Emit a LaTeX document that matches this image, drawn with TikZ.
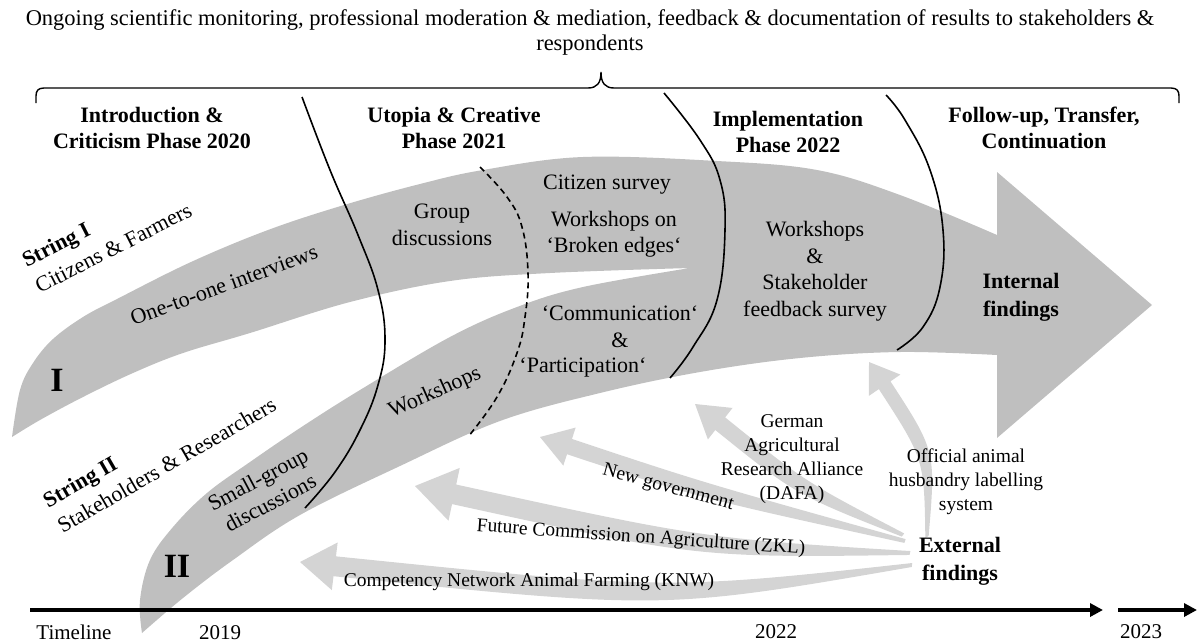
\documentclass[tikz,border=0pt]{standalone}
\usepackage{fontspec}
\setmainfont{Liberation Serif}
\usepackage{tikz}
\usetikzlibrary{arrows.meta,calc}
\definecolor{bandGray}{RGB}{191,191,191}
\definecolor{extGray}{RGB}{212,212,212}
\tikzset{
  head text/.style={align=center,inner sep=0pt,font=\fontsize{22.5}{25}\selectfont},
  phase text/.style={align=center,inner sep=0pt,font=\bfseries\fontsize{22}{26}\selectfont},
  band text/.style={align=center,inner sep=0pt,font=\fontsize{22}{26.5}\selectfont},
  string text/.style={align=left,inner sep=0pt,anchor=south west,font=\fontsize{22}{29}\selectfont},
  roman num/.style={inner sep=0pt,font=\bfseries\fontsize{34}{34}\selectfont},
  ext text/.style={align=center,inner sep=0pt,font=\fontsize{19.5}{24}\selectfont},
  findings text/.style={align=center,inner sep=0pt,font=\bfseries\fontsize{22}{28}\selectfont},
  year text/.style={inner sep=0pt,anchor=base,font=\fontsize{21}{21}\selectfont},
  phase line/.style={line width=1.6pt},
  phase line dashed/.style={line width=1.6pt,dash pattern=on 6pt off 4pt},
  brace line/.style={line width=1.4pt},
  time arrow/.style={line width=4pt,-{Triangle[length=13pt,width=13pt]}}
}
% tapered grey arrow: origin, control, tip, direction, head length, head half width, shaft half width
\newcommand{\extarrow}[7]{%
  \fill[extGray] ($(#1)+(#4+90:2)$) .. controls ($(#2)+(#4+90:#7)$) .. ($(#3)+(#4+180:#5)+(#4+90:#7)$)
    -- ($(#3)+(#4+180:#5)+(#4+90:#6)$) -- (#3)
    -- ($(#3)+(#4+180:#5)+(#4-90:#6)$) -- ($(#3)+(#4+180:#5)+(#4-90:#7)$)
    .. controls ($(#2)+(#4-90:#7)$) .. ($(#1)+(#4-90:2)$) -- cycle;}

\begin{document}
\begin{tikzpicture}[x=1pt,y=-1pt]
\useasboundingbox (0,0) rectangle (1197,643);

% both strings and the common head
\fill[bandGray]
  plot[smooth,tension=.6] coordinates {(12,437) (20,390) (33,363) (53,339) (83,317) (117,299) (191,262) (268,230) (344,205) (420,184) (483,170) (583,157) (717,161) (817,170) (900,195) (997,235)}
  -- (997,172) -- (1152,305) -- (997,438) -- (997,355)
  -- plot[smooth,tension=.6] coordinates {(997,355) (900,352) (800,358) (700,372) (600,393) (500,421) (400,466) (300,515) (233,560) (183,598) (142,633)}
  -- plot[smooth,tension=.6] coordinates {(142,633) (140,600) (150,560) (173,527) (207,493) (250,462) (300,428) (360,390) (450,337) (517,307) (583,287) (690,268)}
  -- plot[smooth,tension=.6] coordinates {(690,268) (550,273) (450,281) (350,302) (250,333) (183,353) (133,373) (83,397) (40,420) (12,437)}
  -- cycle;

% external findings
\coordinate (fromOfficial) at (927,537);
\coordinate (toOfficial) at (869,362);
\coordinate (fromDAFA) at (903,535);
\coordinate (toDAFA) at (695,404);
\coordinate (fromGov) at (905,541);
\coordinate (toGov) at (540,437);
\coordinate (fromZKL) at (910,553);
\coordinate (toZKL) at (415,486);
\coordinate (fromKNW) at (912,565);
\coordinate (toKNW) at (300,562);
\extarrow{fromOfficial}{930,455}{toOfficial}{236}{28}{19}{7}
\extarrow{fromDAFA}{800,488}{toDAFA}{218}{32}{20}{8}
\extarrow{fromGov}{700,490}{toGov}{198}{31}{20}{8}
\extarrow{fromZKL}{700,548}{toZKL}{192}{40}{27}{10}
\extarrow{fromKNW}{665,600}{toKNW}{187}{35}{24}{10}

% phase borders
\draw[phase line] plot[smooth,tension=.7] coordinates {(302,97) (330,170) (358,235) (378,290) (385,340) (378,385) (360,430) (335,472) (305,508)};
\draw[phase line dashed] plot[smooth,tension=.7] coordinates {(480,167) (507,197) (522,227) (528,273) (525,317) (517,353) (497,397) (468,437)};
\draw[phase line] plot[smooth,tension=.7] coordinates {(664,93) (700,140) (720,180) (725,230) (717,300) (693,347) (670,378)};
\draw[phase line] plot[smooth,tension=.7] coordinates {(886,95) (905,120) (930,170) (943,230) (940,287) (923,327) (897,350)};

\draw[brace line] (36,103) -- (36,96) .. controls (36,91) and (38,88) .. (44,88) -- (588,88)
  .. controls (597,88) and (601,83) .. (601,72) .. controls (601,83) and (605,88) .. (614,88)
  -- (1171,88) .. controls (1177,88) and (1179,91) .. (1179,96) -- (1179,103);

\node[head text] (monitoring) at (590,32) {Ongoing scientific monitoring, professional moderation \& mediation, feedback \& documentation of results to stakeholders \&\\respondents};

\node[phase text] (intro) at (152,128) {Introduction \&\\Criticism Phase 2020};
\node[phase text] (utopia) at (454,128) {Utopia \& Creative\\Phase 2021};
\node[phase text] (implement) at (788,132) {Implementation\\Phase 2022};
\node[phase text] (follow) at (1044,128) {Follow-up, Transfer,\\Continuation};

\node[string text,rotate=27] (stringI) at (40,294) {\textbf{String I}\\Citizens \& Farmers};
\node[string text,rotate=30] (stringII) at (63,534) {\textbf{String II}\\Stakeholders \& Researchers};
\node[roman num] (numI) at (57,380) {I};
\node[roman num] (numII) at (177,566) {II};

\node[band text,rotate=20] (interviews) at (224,285) {One-to-one interviews};
\node[band text] (groupdisc) at (442,225) {Group\\discussions};
\node[band text] (citsurvey) at (607,185) {Citizen survey};
\node[band text] (brokenedges) at (614,234) {Workshops on\\‘Broken edges‘};
\node[band text] (communication) at (620,327) {‘Communication‘\\\&};
\node[band text] (participation) at (583,368) {‘Participation‘};
\node[band text,rotate=28] (smallgroup) at (264,491) {Small-group\\discussions};
\node[band text,rotate=24] (workshops) at (435,393) {Workshops};
\node[band text] (stakeholder) at (815,271) {Workshops\\\&\\Stakeholder\\feedback survey};
\node[findings text] (internal) at (1021,297) {Internal\\findings};

\node[findings text] (external) at (960,561) {External\\findings};
\node[ext text] (dafa) at (792,459) {German\\Agricultural\\Research Alliance\\(DAFA)};
\node[ext text] (official) at (966,482) {Official animal\\husbandry labelling\\system};
\node[ext text,rotate=-15] (government) at (668,488) {New government};
\node[ext text,rotate=-4] (zkl) at (641,538) {Future Commission on Agriculture (ZKL)};
\node[ext text] (knw) at (529,582) {Competency Network Animal Farming (KNW)};

% timeline
\coordinate (tlStart) at (30,610);
\coordinate (tlEnd) at (1103,610);
\coordinate (nextStart) at (1118,610);
\coordinate (nextEnd) at (1197,610);
\draw[time arrow] (tlStart) -- (tlEnd);
\draw[time arrow] (nextStart) -- (nextEnd);
\node[year text] (timeline) at (74,639) {Timeline};
\node[year text] (y2019) at (220,639) {2019};
\node[year text] (y2022) at (776,638) {2022};
\node[year text] (y2023) at (1141,638) {2023};
\end{tikzpicture}
\end{document}
